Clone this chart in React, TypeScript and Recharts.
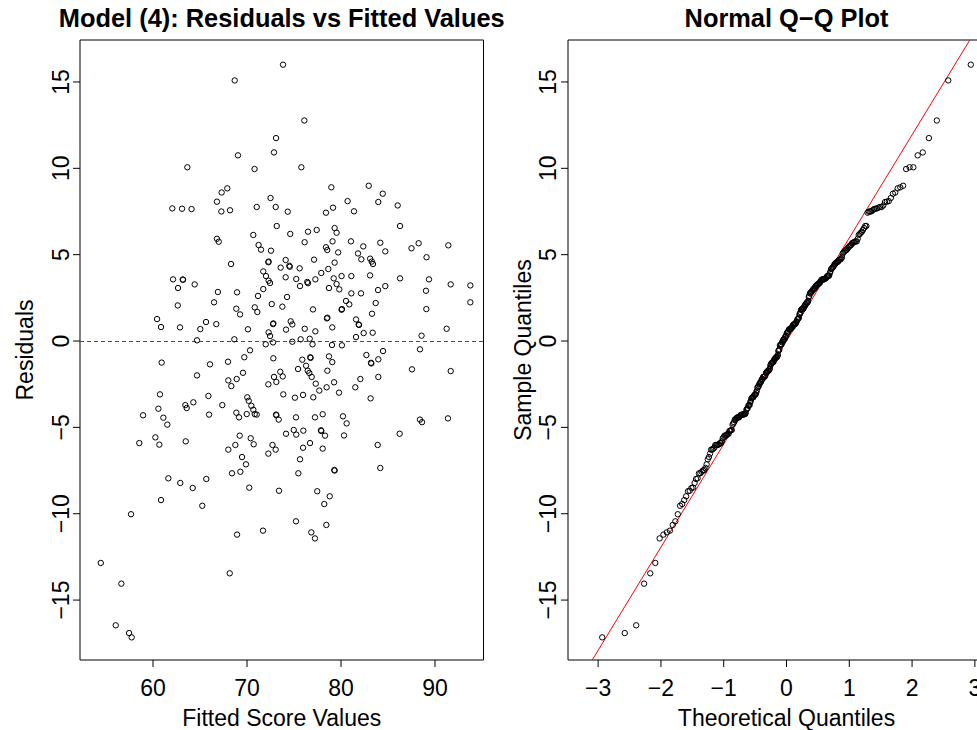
import React from 'react';
import { ScatterChart, Scatter, XAxis, YAxis, ReferenceLine, ReferenceArea } from 'recharts';

// Fitted score values (x of the residual plot)
const fittedValues = [
  63.65, 67.3, 66.8, 73.83, 68.69, 76.1, 73.09, 69.04, 72.87, 70.8, 75.78, 67.9, 78.97, 72.5, 80.7,
  82.95, 84.44, 83.97,
  62.05, 63.09, 64.1, 67.27, 66.8, 66.99, 62.13, 63.16, 63.2, 64.43, 62.66, 66.9, 66.49, 62.63, 60.43,
  60.85, 62.87, 65.64, 66.73, 65.03, 64.68,
  68.19, 71.03, 73.05, 74.33, 78.4, 79.15, 73.16, 70.67, 74.6, 76.49, 77.41, 79.32, 79.53, 71.23, 71.49,
  72.55, 76.13, 78.4, 78.54, 79.1, 79.7, 81.06, 68.3, 72.27, 72.3, 74.11, 73.58, 74.5, 74.55, 75.6,
  77.13, 79.32, 78.65, 77.9, 71.73, 72.02, 72.3, 72.45, 74.11, 75.24, 76.41, 76.49, 77.27, 79.22, 80.06,
  81.1, 79.53, 75.64, 78.72, 79.82, 71.73, 68.94, 71.17, 74.26, 80.53, 80.88, 72.63, 73.76, 70.82, 71.1,
  68.86, 69.26, 77.02, 80.06, 80.1, 78.5, 78.55, 79.07, 72.77, 72.8, 74.65, 74.82, 70.1, 74.15, 76.14,
  77.27, 72.3, 72.45, 72.77, 68.65, 71.99, 74.82, 75.71, 76.67, 76.97, 79.04, 80.1,
  81.38, 86.03, 86.28, 82.37, 84.18, 84.71, 87.5, 88.26, 91.42, 81.81, 82.16, 83.1, 83.27, 83.4, 89.1,
  83.09, 86.28, 89.36, 83.94, 84.71, 82.13, 81.1, 89.04, 91.67, 93.76, 93.76, 83.69, 89.08, 83.3, 81.6,
  81.88, 81.92, 82.41, 83.37, 81.6, 88.57, 91.24,
  60.92, 66.06, 64.68, 60.74, 65.89, 67.37, 60.57, 63.44, 63.58, 64.29, 58.94, 61.1, 61.52, 65.96,
  60.25, 58.54, 60.67, 63.48, 61.63, 62.9, 64.22, 65.67,
  70.32, 67.98, 69.71, 72.8, 75.88, 76.73, 76.76, 78.72, 79.07, 75.43, 76.28, 76.46, 76.63, 76.88, 78.55,
  68.01, 68.33, 68.9, 69.57, 73.54, 73.8, 72.87, 73.12, 72.27, 77.31, 77.69, 78.47, 79.26, 79.79, 73.86,
  75.1, 75.96, 77.05, 70.03, 70.18, 70.46, 70.67, 70.82, 71.03, 68.86, 69.15, 69.97, 73.09, 73.12, 73.37,
  75.21, 77.23, 78.05, 80.21, 80.6, 77.87, 77.9, 78.3, 74.15, 74.97, 75.24, 75.99, 80.32, 69.22, 70.39,
  70.71, 68.76, 68.01, 72.71, 73.05, 72.27, 75.96, 76.7, 78.05, 69.47, 69.89, 75.64, 68.4, 69.29, 75.46,
  79.29, 79.32, 70.24, 73.4, 77.47,
  82.7, 84.47, 88.4, 83.19, 83.22, 83.97, 87.55, 91.67, 82.06, 81.52, 83.97, 83.15, 88.4, 88.62, 91.38,
  86.24, 83.9, 84.18,
  60.85, 65.24, 57.66, 54.44, 56.63, 56.03, 57.45, 57.73,
  78.8, 78.22, 75.21, 78.44, 71.7, 68.94, 76.84, 77.23, 68.16,
];

// Residuals (y of the residual plot), same order as fittedValues
const residualValues = [
  10.06, 8.6, 8.07, 16.0, 15.09, 12.77, 11.75, 10.75, 10.92, 9.96, 10.06, 8.84, 8.9, 8.28, 8.1,
  8.99, 8.53, 8.05,
  7.68, 7.66, 7.64, 7.5, 5.92, 5.75, 3.57, 3.56, 3.55, 3.28, 3.07, 2.84, 2.24, 2.06, 1.27,
  0.81, 0.79, 1.1, 0.98, 0.69, 0.04,
  7.57, 7.76, 7.76, 7.49, 7.43, 7.72, 6.66, 6.14, 6.2, 6.33, 6.43, 6.54, 6.27, 5.56, 5.29,
  5.23, 5.72, 5.43, 5.27, 5.77, 5.13, 5.77, 4.46, 4.56, 4.6, 4.69, 4.25, 4.36, 4.3, 4.21,
  4.71, 4.54, 4.17, 3.94, 4.03, 3.76, 3.49, 3.36, 3.69, 3.59, 3.42, 3.35, 3.57, 3.63, 3.76,
  3.76, 3.3, 3.18, 3.07, 2.99, 3.01, 2.82, 2.61, 2.55, 2.32, 2.12, 2.14, 1.99, 1.95, 1.68,
  1.87, 1.54, 1.83, 1.81, 1.85, 1.31, 1.35, 0.79, 0.98, 1.02, 1.14, 0.96, 0.68, 0.66, 0.71,
  0.56, 0.5, 0.29, -0.08, 0.1, -0.19, -0.04, 0.1, 0.13, -0.19, -0.23, -0.25,
  7.51, 7.85, 6.66, 5.48, 5.69, 5.19, 5.37, 5.66, 5.54, 5.07, 4.73, 4.77, 4.6, 4.46, 4.85,
  3.8, 3.63, 3.57, 2.95, 3.18, 2.76, 2.76, 2.91, 3.28, 3.22, 2.24, 2.2, 1.85, 1.58, 1.25,
  0.96, 0.93, 0.46, 0.48, 0.23, 0.31, 0.71,
  -1.25, -1.35, -1.99, -3.09, -3.18, -3.71, -3.92, -3.71, -3.88, -3.55, -4.3, -4.44, -4.84, -4.26,
  -5.58, -5.91, -6.0, -5.81, -7.95, -8.22, -8.51, -7.99,
  -0.54, -1.2, -0.94, -1.0, -1.08, -0.94, -0.98, -0.89, -1.22, -1.62, -1.43, -1.72, -1.85, -2.08, -1.72,
  -2.28, -2.61, -2.2, -1.84, -1.78, -2.05, -2.08, -2.37, -2.51, -2.47, -2.87, -2.68, -2.39, -2.99, -3.09,
  -3.28, -3.12, -3.26, -3.26, -3.46, -3.75, -3.98, -4.23, -4.26, -4.15, -4.42, -4.23, -4.26, -4.3, -4.55,
  -4.42, -4.42, -4.24, -4.36, -4.77, -5.17, -5.21, -5.48, -5.37, -5.15, -5.42, -5.19, -5.47, -5.48, -5.63,
  -5.98, -6.02, -6.29, -6.02, -6.29, -6.52, -6.18, -5.91, -6.23, -6.72, -7.14, -6.85, -7.66, -7.57, -7.66,
  -7.47, -7.5, -8.49, -8.67, -8.7,
  -0.81, -0.58, -0.48, -1.26, -1.3, -1.06, -1.64, -1.74, -2.2, -2.68, -2.08, -3.32, -4.55, -4.7, -4.48,
  -5.37, -6.02, -7.35,
  -9.21, -9.54, -10.03, -12.85, -14.05, -16.46, -16.91, -17.16,
  -8.99, -9.44, -10.44, -10.65, -10.98, -11.21, -11.08, -11.43, -13.45,
];

const fittedTicks = [60, 70, 80, 90];
const residualTicks = [-15, -10, -5, 0, 5, 10, 15];
const theoreticalTicks = [-3, -2, -1, 0, 1, 2, 3];

const fittedDomain: [number, number] = [52.23, 95.16];
const residualDomain: [number, number] = [-18.47, 17.43];
const theoreticalDomain: [number, number] = [-3.48, 3.48];

// Reference line of the Q-Q plot
const qqLineIntercept = 0.0;
const qqLineSlope = 5.97;

const FONT = '"Liberation Sans", Arial, Helvetica, sans-serif';

// inverse standard normal CDF (Acklam) for the theoretical quantiles
function qnorm(p: number): number {
  const a = [-3.969683028665376e1, 2.209460984245205e2, -2.759285104469687e2, 1.38357751867269e2, -3.066479806614716e1, 2.506628277459239];
  const b = [-5.447609879822406e1, 1.615858368580409e2, -1.556989798598866e2, 6.680131188771972e1, -1.328068155288572e1];
  const c = [-7.784894002430293e-3, -3.223964580411365e-1, -2.400758277161838, -2.549732539343734, 4.374664141464968, 2.938163982698783];
  const d = [7.784695709041462e-3, 3.224671290700398e-1, 2.445134137142996, 3.754408661907416];
  const plow = 0.02425;
  if (p < plow) {
    const q = Math.sqrt(-2 * Math.log(p));
    return (((((c[0] * q + c[1]) * q + c[2]) * q + c[3]) * q + c[4]) * q + c[5]) / ((((d[0] * q + d[1]) * q + d[2]) * q + d[3]) * q + 1);
  }
  if (p > 1 - plow) {
    const q = Math.sqrt(-2 * Math.log(1 - p));
    return -(((((c[0] * q + c[1]) * q + c[2]) * q + c[3]) * q + c[4]) * q + c[5]) / ((((d[0] * q + d[1]) * q + d[2]) * q + d[3]) * q + 1);
  }
  const q = p - 0.5;
  const r = q * q;
  return ((((((a[0] * r + a[1]) * r + a[2]) * r + a[3]) * r + a[4]) * r + a[5]) * q) / (((((b[0] * r + b[1]) * r + b[2]) * r + b[3]) * r + b[4]) * r + 1);
}

const residualData = fittedValues.map((f, i) => ({ x: f, y: residualValues[i] }));

const sortedResiduals = [...residualValues].sort((a, b) => a - b);
const nObs = sortedResiduals.length;
const qqData = sortedResiduals.map((v, i) => ({ x: qnorm((i + 0.5) / nObs), y: v }));

// clip the qq reference line to the plotting box
const qqX0 = Math.max(theoreticalDomain[0], (residualDomain[0] - qqLineIntercept) / qqLineSlope);
const qqX1 = Math.min(theoreticalDomain[1], (residualDomain[1] - qqLineIntercept) / qqLineSlope);
const qqSegment = [
  { x: qqX0, y: qqLineIntercept + qqLineSlope * qqX0 },
  { x: qqX1, y: qqLineIntercept + qqLineSlope * qqX1 },
];

const fmt = (v: number) => (v < 0 ? '\u2212' + Math.abs(v) : String(v));

const OpenCircle = (props: any) => {
  const { cx, cy } = props;
  if (cx == null || cy == null) return null;
  return <circle cx={cx} cy={cy} r={2.7} fill="none" stroke="#000" strokeWidth={1} />;
};

const makeXTick = (baseline: number) => (props: any) => {
  const { x, payload } = props;
  return (
    <text x={x} y={baseline} textAnchor="middle" fontFamily={FONT} fontSize={23} fill="#000">
      {fmt(payload.value)}
    </text>
  );
};

const makeYTick = (bx: number) => (props: any) => {
  const { y, payload } = props;
  return (
    <text x={bx} y={y} transform={`rotate(-90, ${bx}, ${y})`} textAnchor="middle" fontFamily={FONT} fontSize={23} fill="#000">
      {fmt(payload.value)}
    </text>
  );
};

export default function App() {
  return (
    <div style={{ position: 'absolute', left: 0, top: 0, width: 977, height: 730, overflow: 'hidden', background: '#fff' }}>
      <div style={{ position: 'absolute', left: 0, top: 0 }}>
        <ScatterChart width={490} height={730} margin={{ top: 40, right: 6.5, bottom: 0, left: 0 }}>
          <XAxis
            type="number"
            dataKey="x"
            domain={fittedDomain}
            ticks={fittedTicks}
            interval={0}
            allowDataOverflow
            height={70}
            tickSize={7}
            tickMargin={0}
            axisLine={false}
            tickLine={{ stroke: '#000', strokeWidth: 1 }}
            tick={makeXTick(696)}
          />
          <YAxis
            type="number"
            dataKey="y"
            domain={residualDomain}
            ticks={residualTicks}
            interval={0}
            allowDataOverflow
            width={80}
            tickSize={7}
            tickMargin={0}
            axisLine={false}
            tickLine={{ stroke: '#000', strokeWidth: 1 }}
            tick={makeYTick(69)}
          />
          <ReferenceArea
            x1={fittedDomain[0]}
            x2={fittedDomain[1]}
            y1={residualDomain[0]}
            y2={residualDomain[1]}
            fill="none"
            fillOpacity={0}
            stroke="#000"
            strokeWidth={1}
            ifOverflow="visible"
          />
          <ReferenceLine y={0} stroke="#ff0000" strokeWidth={1} strokeDasharray="4 3" shapeRendering="crispEdges" />
          <Scatter data={residualData} shape={OpenCircle} isAnimationActive={false} />
        </ScatterChart>
      </div>
      <div style={{ position: 'absolute', left: 490, top: 0 }}>
        <ScatterChart width={525} height={730} margin={{ top: 40, right: 10, bottom: 0, left: 0 }}>
          <XAxis
            type="number"
            dataKey="x"
            domain={theoreticalDomain}
            ticks={theoreticalTicks}
            interval={0}
            allowDataOverflow
            height={70}
            tickSize={7}
            tickMargin={0}
            axisLine={false}
            tickLine={{ stroke: '#000', strokeWidth: 1 }}
            tick={makeXTick(696)}
          />
          <YAxis
            type="number"
            dataKey="y"
            domain={residualDomain}
            ticks={residualTicks}
            interval={0}
            allowDataOverflow
            width={78}
            tickSize={7}
            tickMargin={0}
            axisLine={false}
            tickLine={{ stroke: '#000', strokeWidth: 1 }}
            tick={makeYTick(66)}
          />
          <ReferenceArea
            x1={theoreticalDomain[0]}
            x2={theoreticalDomain[1]}
            y1={residualDomain[0]}
            y2={residualDomain[1]}
            fill="none"
            fillOpacity={0}
            stroke="#000"
            strokeWidth={1}
            ifOverflow="visible"
          />
          <ReferenceLine segment={qqSegment} stroke="#ff0000" strokeWidth={1} ifOverflow="visible" />
          <Scatter data={qqData} shape={OpenCircle} isAnimationActive={false} />
        </ScatterChart>
      </div>
      <svg width={977} height={730} style={{ position: 'absolute', left: 0, top: 0, pointerEvents: 'none' }}>
        <text x={281.75} y={27} textAnchor="middle" fontFamily={FONT} fontSize={25.4} fontWeight="bold" fill="#000">
          Model (4): Residuals vs Fitted Values
        </text>
        <text x={281.75} y={726} textAnchor="middle" fontFamily={FONT} fontSize={23} fill="#000">
          Fitted Score Values
        </text>
        <text x={33} y={350} transform="rotate(-90, 33, 350)" textAnchor="middle" fontFamily={FONT} fontSize={23} fill="#000">
          Residuals
        </text>
        <text x={786.5} y={27} textAnchor="middle" fontFamily={FONT} fontSize={25.4} fontWeight="bold" fill="#000">
          Normal Q{'\u2212'}Q Plot
        </text>
        <text x={786.5} y={726} textAnchor="middle" fontFamily={FONT} fontSize={23} fill="#000">
          Theoretical Quantiles
        </text>
        <text x={531} y={350} transform="rotate(-90, 531, 350)" textAnchor="middle" fontFamily={FONT} fontSize={23} fill="#000">
          Sample Quantiles
        </text>
      </svg>
    </div>
  );
}
